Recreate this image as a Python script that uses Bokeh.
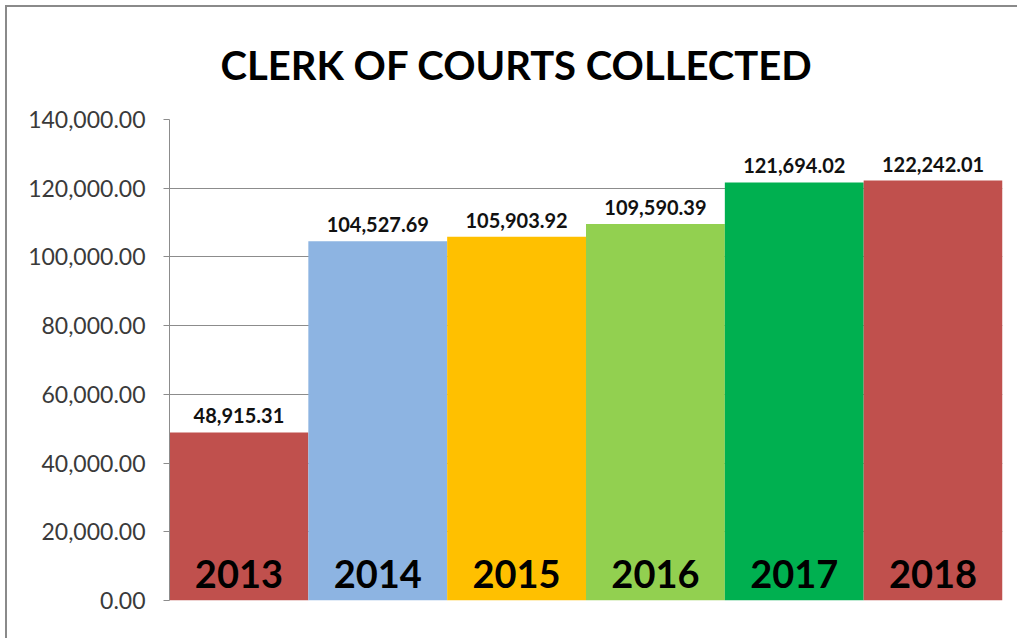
from bokeh.plotting import figure
from bokeh.models import ColumnDataSource, FixedTicker, NumeralTickFormatter, Title, Range1d
from bokeh.core.properties import value
from bokeh.embed import file_html
from bokeh.resources import INLINE

years = ["2013", "2014", "2015", "2016", "2017", "2018"]
amounts = [48915.31, 104527.69, 105903.92, 109590.39, 121694.02, 122242.01]
amount_labels = ["48,915.31", "104,527.69", "105,903.92", "109,590.39", "121,694.02", "122,242.01"]
colors = ["#C0504D", "#8DB4E2", "#FFC000", "#92D050", "#00B050", "#C0504D"]
y_ticks = [0, 20000, 40000, 60000, 80000, 100000, 120000, 140000]
title_text = "CLERK OF COURTS COLLECTED"

xs = [i + 0.5 for i in range(len(years))]
src = ColumnDataSource(dict(x=xs, top=amounts, year=years, lab=amount_labels, color=colors,
                            zero=[0] * len(years)))

p = figure(width=1010, height=630, frame_width=833, frame_height=481,
           x_range=Range1d(0, len(years)), y_range=Range1d(0, 140000),
           output_backend="svg", toolbar_location=None,
           min_border_left=162, min_border_right=15, min_border_top=111, min_border_bottom=38)
p.outline_line_color = None
p.background_fill_color = "white"
p.border_fill_color = "white"
p.styles = {"border-left": "2px solid #8A8A8A", "border-top": "2px solid #8A8A8A",
            "margin-left": "5px", "margin-top": "5px"}

p.vbar(x="x", top="top", width=1.0, bottom=0, color="color", line_color=None, source=src)

p.text(x="x", y="top", text="lab", source=src, text_align="center", text_baseline="bottom",
       y_offset=-9, text_font=value("Lato"), text_font_style="bold", text_font_size="20px",
       text_color="#111111")
p.text(x="x", y="zero", text="year", source=src, text_align="center", text_baseline="middle",
       y_offset=-27, text_font=value("Lato"), text_font_style="bold", text_font_size="38px",
       text_color="#000000")

p.xaxis.visible = False
p.xgrid.visible = False
p.ygrid.grid_line_color = "#8C8C8C"
p.ygrid.grid_line_width = 1
p.yaxis.ticker = FixedTicker(ticks=y_ticks)
p.yaxis.formatter = NumeralTickFormatter(format="0,0.00")
p.yaxis.axis_line_color = "#8C8C8C"
p.yaxis.major_tick_line_color = "#8C8C8C"
p.yaxis.major_tick_out = 6
p.yaxis.major_tick_in = 0
p.yaxis.minor_tick_line_color = None
p.yaxis.major_label_standoff = 18
p.yaxis.major_label_text_font = "Lato"
p.yaxis.major_label_text_font_size = "23px"
p.yaxis.major_label_text_color = "#3A3A3A"

p.title = Title(text=title_text, align="left", offset=51, vertical_align="bottom", standoff=62,
                text_font="Lato", text_font_style="bold", text_font_size="40px",
                text_color="#000000")

open("out.html", "w").write(file_html(p, INLINE))
